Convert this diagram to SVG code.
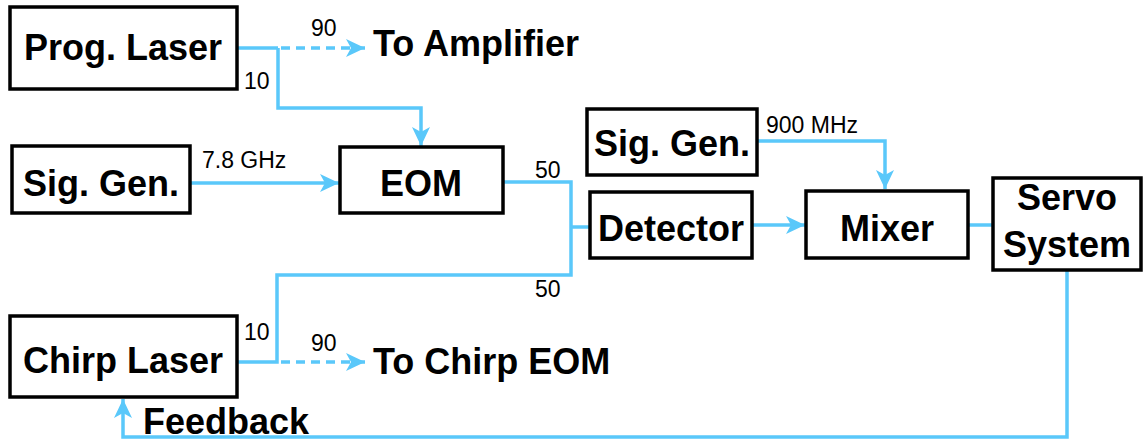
<svg xmlns="http://www.w3.org/2000/svg" width="1143" height="440" viewBox="0 0 1143 440">
<style>
.box{fill:#fff;stroke:#000;stroke-width:3.5}
.lbl{font-family:"Liberation Sans",Arial,sans-serif;font-weight:bold;font-size:36px;fill:#000;text-anchor:middle}
.big{font-family:"Liberation Sans",Arial,sans-serif;font-weight:bold;font-size:36px;fill:#000}
.num{font-family:"Liberation Sans",Arial,sans-serif;font-size:23px;fill:#000}
.ln{fill:none;stroke:#5AC8FA;stroke-width:3.5}
.dash{stroke-dasharray:9 6}
</style>
<defs>
<marker id="arr" markerUnits="userSpaceOnUse" markerWidth="20" markerHeight="20" viewBox="0 0 20 20" refX="19" refY="10" orient="auto">
<path d="M0,1 L19,10 L0,19 L5,10 z" fill="#5AC8FA"/>
</marker>
</defs>
<g id="connectors">
<path class="ln" d="M237,48 H278"/>
<path class="ln dash" d="M281,48 H365" marker-end="url(#arr)"/>
<path class="ln" d="M278,48 V108 H421 V146" marker-end="url(#arr)"/>
<path class="ln" d="M190,183 H339" marker-end="url(#arr)"/>
<path class="ln" d="M503,182 H571 V275 H277 V362 H237"/>
<path class="ln" d="M571,227 H590"/>
<path class="ln dash" d="M281,362 H365" marker-end="url(#arr)"/>
<path class="ln" d="M757,141 H885 V189" marker-end="url(#arr)"/>
<path class="ln" d="M752,225 H805" marker-end="url(#arr)"/>
<path class="ln" d="M968,225 H993"/>
<path class="ln" d="M1067,270 V437 H123 V399" marker-end="url(#arr)"/>
</g>
<g id="prog-laser"><rect class="box" x="10" y="7" width="227" height="82"/><text class="lbl" x="123" y="60">Prog. Laser</text></g>
<g id="sig-gen-1"><rect class="box" x="12" y="146" width="178" height="67"/><text class="lbl" x="101" y="196">Sig. Gen.</text></g>
<g id="eom"><rect class="box" x="340" y="147" width="163" height="66"/><text class="lbl" x="421" y="196">EOM</text></g>
<g id="sig-gen-2"><rect class="box" x="587" y="109" width="170" height="66"/><text class="lbl" x="672" y="156">Sig. Gen.</text></g>
<g id="detector"><rect class="box" x="590" y="192" width="162" height="66"/><text class="lbl" x="671" y="241">Detector</text></g>
<g id="mixer"><rect class="box" x="806" y="191" width="162" height="67"/><text class="lbl" x="887" y="241">Mixer</text></g>
<g id="servo"><rect class="box" x="993" y="178" width="148" height="92"/><text class="lbl" x="1067" y="210">Servo</text><text class="lbl" x="1067" y="257">System</text></g>
<g id="chirp-laser"><rect class="box" x="10" y="316" width="227" height="81"/><text class="lbl" x="123" y="373">Chirp Laser</text></g>
<g id="labels">
<text class="big" x="373" y="56">To Amplifier</text>
<text class="big" x="373" y="374">To Chirp EOM</text>
<text class="big" x="143" y="434">Feedback</text>
<text class="num" x="311" y="36">90</text>
<text class="num" x="244" y="89">10</text>
<text class="num" x="202" y="168">7.8 GHz</text>
<text class="num" x="535" y="178">50</text>
<text class="num" x="535" y="297">50</text>
<text class="num" x="766" y="133">900 MHz</text>
<text class="num" x="244" y="340">10</text>
<text class="num" x="311" y="351">90</text>
</g>
</svg>
